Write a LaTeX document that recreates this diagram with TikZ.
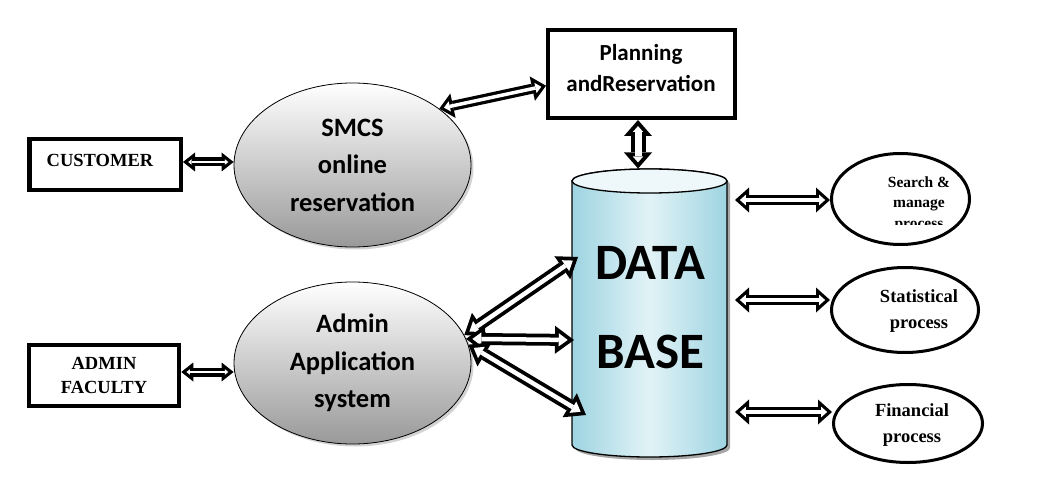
\documentclass[tikz,border=0pt]{standalone}
\usepackage{fontspec}
\setmainfont{Liberation Serif}
\newfontfamily\carl{Carlito}
\usetikzlibrary{arrows.meta,shapes.geometric,shadows}
\definecolor{dbdark}{RGB}{158,212,225}
\definecolor{dblight}{RGB}{226,243,247}
\begin{document}
\begin{tikzpicture}[x=1pt,y=-1pt,
  sbox/.style={draw=black, line width=4.5pt, rectangle, inner sep=0pt},
  gell/.style={ellipse, draw=black, line width=0.8pt, inner sep=0pt, top color=white, bottom color=black!40,
     drop shadow={shadow xshift=2.5pt, shadow yshift=-2.5pt, opacity=0.35}},
  pell/.style={ellipse, draw=black, line width=3pt, fill=white, inner sep=0pt},
  serifl/.style={font=\bfseries\fontsize{18.5}{24}\selectfont, align=center, inner sep=0pt},
  carll/.style={font=\carl\bfseries\fontsize{26.5}{37.5}\selectfont, align=center, inner sep=0pt},
  barrow/.style n args={7}{draw=black, line width=#1,
     arrows={Triangle[length=#3,width=#4,line width=0pt]-Triangle[length=#3,width=#4,line width=0pt]},
     postaction={draw=white, line width=#2, shorten <=#5, shorten >=#5,
       arrows={Triangle[length=#6,width=#7,line width=0pt]-Triangle[length=#6,width=#7,line width=0pt]}}},
  smallarrow/.style={barrow={9pt}{2.5pt}{12pt}{19pt}{5.23pt}{3.5pt}{5.5pt}},
  midarrow/.style={barrow={10pt}{3.5pt}{14pt}{25pt}{4.87pt}{5.9pt}{10.5pt}},
  bigarrow/.style={barrow={12pt}{4.5pt}{19pt}{28pt}{6.3pt}{8.95pt}{13.2pt}},
  vertarrow/.style={barrow={15pt}{7pt}{16pt}{28pt}{6.07pt}{5.93pt}{10.4pt}}
]
\useasboundingbox (0,0) rectangle (1040,497);

% left boxes
\node[sbox, minimum width=151.5pt, minimum height=50.5pt] (cust) at (105,164.5) {};
\node[serifl] (custt) at (100,160) {CUSTOMER};
\node[sbox, minimum width=150pt, minimum height=61pt, serifl, font=\bfseries\fontsize{18.5}{24}\selectfont] (admf) at (104,375.5) {ADMIN\\FACULTY};

% planning box
\node[sbox, line width=4pt, minimum width=187pt, minimum height=88pt] (plan) at (641.5,74) {};
\node[font=\carl\bfseries\fontsize{23}{31}\selectfont, align=center, inner sep=0pt] (plant) at (641,68) {Planning\\andReservation};

% grey ellipses
\node[gell, minimum width=237pt, minimum height=164pt, carll] (smcs) at (352.5,165) {SMCS\\online\\reservation};
\node[gell, minimum width=237pt, minimum height=162pt, carll] (admin) at (352.5,363) {Admin\\Application\\system};

% database cylinder
\fill[black!35] (575,184) -- (575,448) arc[start angle=180,end angle=360,x radius=77.5pt,y radius=12pt]
   -- (730,184) arc[start angle=0,end angle=180,x radius=77.5pt,y radius=12pt] -- cycle;
\draw[line width=1.3pt, left color=dbdark, right color=dbdark, middle color=dblight]
   (572,181) -- (572,445) arc[start angle=180,end angle=360,x radius=77.5pt,y radius=12pt]
   -- (727,181) arc[start angle=0,end angle=180,x radius=77.5pt,y radius=12pt] -- cycle;
\draw[line width=1.3pt, fill=dblight!60!white] (649.5,181) ellipse[x radius=77.5pt, y radius=12pt];
\node[font=\carl\bfseries\fontsize{51}{89}\selectfont, align=center, inner sep=0pt] (db) at (650,307.5) {DATA\\BASE};
\coordinate (dbtop) at (638,168.5);
\coordinate (dbA) at (578,257);
\coordinate (dbB) at (574,340);
\coordinate (dbC) at (586,415);
\coordinate (dbR1) at (735,200);
\coordinate (dbR2) at (735,300);
\coordinate (dbR3) at (735,412);

% right ellipses
\node[pell, minimum width=138pt, minimum height=91pt] (srch) at (900.5,199) {};
\node[pell, minimum width=147pt, minimum height=85pt] (stat) at (905,310) {};
\node[pell, minimum width=149pt, minimum height=78pt] (fin) at (908,423.5) {};
\begin{scope}
\clip (820,150) rectangle (990,224.5);
\node[font=\bfseries\fontsize{15.5}{20.5}\selectfont, align=center, inner sep=0pt] (srcht) at (919,204) {Search \&\\manage\\process};
\end{scope}
\node[serifl, font=\bfseries\fontsize{18.5}{26}\selectfont] (statt) at (919,311) {Statistical\\process};
\node[serifl, font=\bfseries\fontsize{18.5}{26}\selectfont] (fint) at (912,425) {Financial\\process};

% connectors
\draw[smallarrow] ([yshift=2.5pt]cust.east) coordinate (c1) -- (c1 -| smcs.west);
\draw[smallarrow] ([yshift=3.5pt]admf.east) coordinate (a1) -- (a1 -| admin.west);
\draw[midarrow] (smcs.33) -- (plan.187);
\draw[vertarrow] (plan.south -| dbtop) -- (dbtop);
\draw[bigarrow] (admin.14) -- (dbA);
\draw[bigarrow] (admin.12) -- (dbB);
\draw[bigarrow] (admin.9) -- (dbC);
\draw[midarrow] (dbR1) -- (dbR1 -| srch.west);
\draw[midarrow] (dbR2) -- (dbR2 -| stat.west);
\draw[midarrow] (dbR3) -- (dbR3 -| fin.west);
\end{tikzpicture}
\end{document}
